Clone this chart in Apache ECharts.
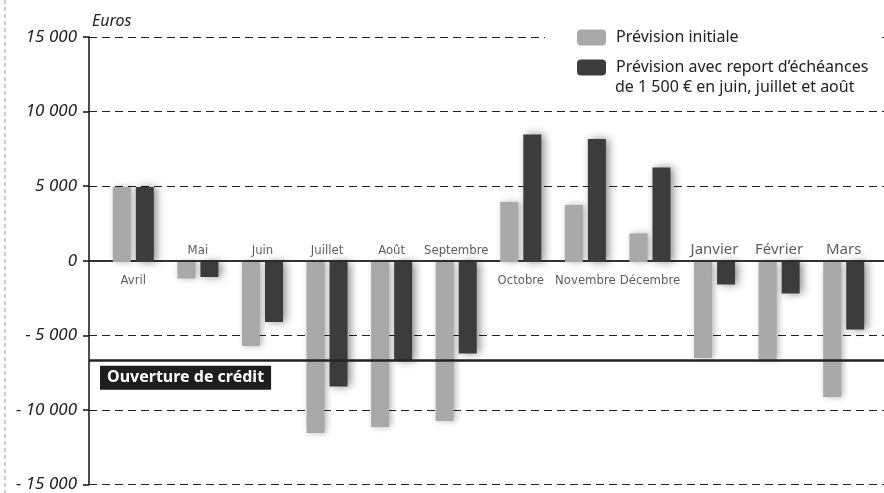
<!DOCTYPE html>
<html><head><meta charset="utf-8">
<script src="https://cdn.jsdelivr.net/npm/echarts@6/dist/echarts.min.js"></script>
<style>html,body{margin:0;padding:0;background:#fff}#c{width:884px;height:493px}</style>
</head><body><div id="c"></div>
<script>
const months = ['Avril','Mai','Juin','Juillet','Août','Septembre','Octobre','Novembre','Décembre','Janvier','Février','Mars'];
const initialForecast = [5000,-1100,-5600,-11400,-11000,-10600,4000,3800,1900,-6400,-6500,-9000];
const deferredForecast = [5000,-1000,-4000,-8300,-6600,-6100,8500,8200,6300,-1500,-2100,-4500];
const labelSide = ['bottom','top','top','top','top','top','bottom','bottom','bottom','top','top','top'];
const creditLimit = -6700;
const nameInitial = 'Prévision initiale';
const nameDeferredLine1 = 'Prévision avec report d’échéances';
const nameDeferredLine2 = 'de 1 500 € en juin, juillet et août';
const nameDeferred = nameDeferredLine1 + ' ' + nameDeferredLine2;
const yUnit = 'Euros';
const creditLabel = 'Ouverture de crédit';

function fmt(v){
  if (v === 0) return '0';
  const a = Math.abs(v).toString().replace(/\B(?=(\d{3})+(?!\d))/g, ' ');
  return (v < 0 ? '- ' : '') + a;
}
const narrowFont = '"DejaVu Sans Condensed","Liberation Sans Narrow","Arial Narrow",sans-serif';
const mainFont = '"Noto Sans",sans-serif';

const chart = echarts.init(document.getElementById('c'));
chart.setOption({
  animation: false,
  grid: [
    {left: 89, right: 0, top: 37, bottom: 6},
    {left: 101, right: 8, top: 37, bottom: 6}
  ],
  xAxis: [
    {gridIndex: 0, type: 'value', min: 0, max: 1, axisLabel: {show: false}, axisTick: {show: false}, splitLine: {show: false},
     axisLine: {onZero: true, lineStyle: {color: '#333', width: 2}}},
    {gridIndex: 1, type: 'category', data: months, axisLabel: {show: false}, axisTick: {show: false}, axisLine: {show: false}}
  ],
  yAxis: [
    {gridIndex: 0, type: 'value', min: -15000, max: 15000, interval: 5000,
     axisLine: {show: true, lineStyle: {color: '#111', width: 1.5}},
     axisTick: {show: true, length: 6, lineStyle: {color: '#111', width: 1.5}},
     axisLabel: {formatter: fmt, fontStyle: 'italic', fontSize: 17, color: '#222', fontFamily: mainFont, margin: 12},
     splitLine: {show: true, lineStyle: {type: [8, 5], color: '#222', width: 1}}},
    {gridIndex: 1, type: 'value', min: -15000, max: 15000, interval: 5000, show: false, splitLine: {show: false}}
  ],
  legend: {
    orient: 'vertical', left: 545, top: 20, itemWidth: 29, itemHeight: 16, itemGap: 9,
    padding: [7, 10, 7, 32], backgroundColor: '#fff',
    data: [nameInitial, nameDeferred],
    formatter: n => n === nameDeferred ? nameDeferredLine1 : n,
    textStyle: {fontSize: 16, color: '#222', fontFamily: mainFont, lineHeight: 21, padding: [0,0,0,5]}
  },
  graphic: [
    {type: 'text', left: 92, top: 13, style: {text: yUnit, fontSize: 16, fontStyle: 'italic', fill: '#222', fontFamily: mainFont}},
    {type: 'text', left: 615, top: 79, z: 10, style: {text: nameDeferredLine2, fontSize: 16, fill: '#222', fontFamily: mainFont}},
    {type: 'line', shape: {x1: 5, y1: 0, x2: 5, y2: 493}, style: {stroke: '#999', lineDash: [4, 3], lineWidth: 1}}
  ],
  series: [
    {type: 'line', xAxisIndex: 0, yAxisIndex: 0, data: [], silent: true,
     markLine: {symbol: 'none', silent: true, lineStyle: {type: 'solid', color: '#222', width: 2.5},
       label: {show: true, formatter: creditLabel, position: 'insideStartBottom', distance: [11, 5],
         backgroundColor: '#1e1e1e', color: '#fff', fontWeight: 'bold', fontSize: 16, padding: [4, 7],
         fontFamily: mainFont},
       data: [{yAxis: creditLimit}]}},
    {name: nameInitial, type: 'bar', xAxisIndex: 1, yAxisIndex: 1, data: initialForecast, barWidth: 18, barGap: '28%',
     itemStyle: {color: '#a9a9a9', shadowBlur: 6, shadowColor: 'rgba(0,0,0,0.3)', shadowOffsetX: 2}},
    {name: nameDeferred, type: 'bar', xAxisIndex: 1, yAxisIndex: 1, data: deferredForecast, barWidth: 18,
     itemStyle: {color: '#3c3c3c', shadowBlur: 8, shadowColor: 'rgba(0,0,0,0.45)', shadowOffsetX: 3}},
    {type: 'scatter', xAxisIndex: 1, yAxisIndex: 1, symbolSize: 0, silent: true,
     data: months.map((m, i) => ({value: 0, label: {position: labelSide[i],
       distance: labelSide[i] === 'bottom' ? 12 : 5,
       fontFamily: i >= 9 ? mainFont : narrowFont, fontSize: i >= 9 ? 15 : 13}})),
     label: {show: true, formatter: p => months[p.dataIndex], color: '#333', distance: 5}}
  ]
});
</script></body></html>
